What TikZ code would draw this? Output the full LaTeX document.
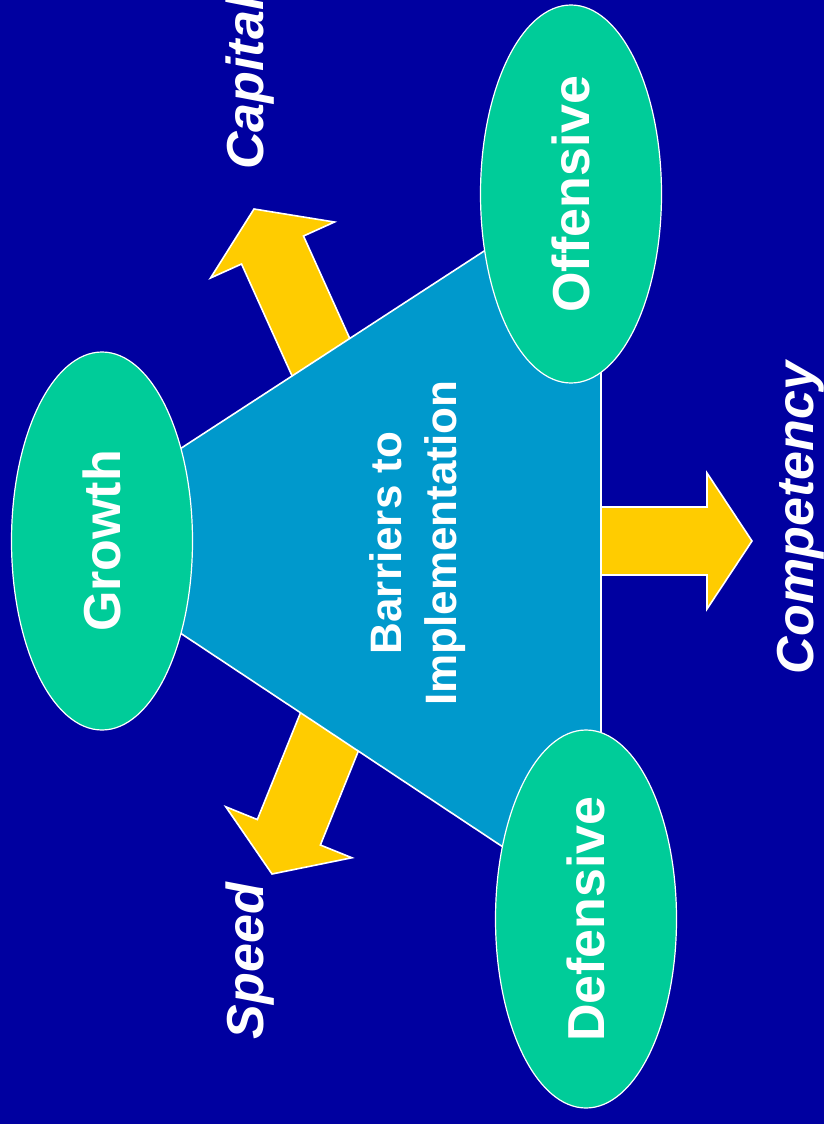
\documentclass[tikz,border=0pt]{standalone}
\usepackage{fontspec}
\setmainfont{Liberation Sans}
\usetikzlibrary{shapes.geometric}
\definecolor{BgBlue}{HTML}{0000A0}
\definecolor{TriBlue}{HTML}{0099CC}
\definecolor{OvalGreen}{HTML}{00CC99}
\definecolor{ArrowGold}{HTML}{FFCC00}

\tikzset{
  blockarrow/.pic={
    \filldraw[fill=ArrowGold, draw=white, line width=1.6pt, line join=miter]
      (0,0) -- (-45,68) -- (-45,34) -- (-220,34) -- (-220,-34) -- (-45,-34) -- (-45,-68) -- cycle;
  }
}

\begin{document}
\begin{tikzpicture}[
    x=1pt, y=-1pt,
    oval/.style={ellipse, draw=white, line width=1.2pt, fill=OvalGreen, text=white,
      minimum width=378pt, minimum height=181pt, inner sep=0pt, rotate=90,
      font=\bfseries\fontsize{52}{60}\selectfont},
    tag/.style={text=white, rotate=90, anchor=base, inner sep=0pt,
      font=\bfseries\itshape\fontsize{52}{60}\selectfont},
    tri/.style={fill=TriBlue, draw=white, line width=1.6pt}
  ]
    \useasboundingbox (0,0) rectangle (824,1124);
    \fill[BgBlue] (0,0) rectangle (824,1124);

    % arrows first, their tails go under the triangle
    \pic (up) at (254,209) [rotate=114.3] {blockarrow};
    \pic (down) at (272,874) [rotate=248] {blockarrow};
    \pic (right) at (752,541) {blockarrow};

    \filldraw[tri] (40,540) -- (601,175) -- (601,912) -- cycle;
    \node[text=white, rotate=90, align=center, font=\bfseries\fontsize{44}{55}\selectfont] (barriers) at (418,543) {Barriers to\\Implementation};

    \node[oval] (growth) at (102,541) {Growth};
    \node[oval] (offensive) at (571,194) {Offensive};
    \node[oval] (defensive) at (586,919) {Defensive};

    \node[tag] (capital) at (263,83) {Capital};
    \node[tag] (speed) at (263,961) {Speed};
    \node[tag] (competency) at (813,518) {Competency};
\end{tikzpicture}
\end{document}
